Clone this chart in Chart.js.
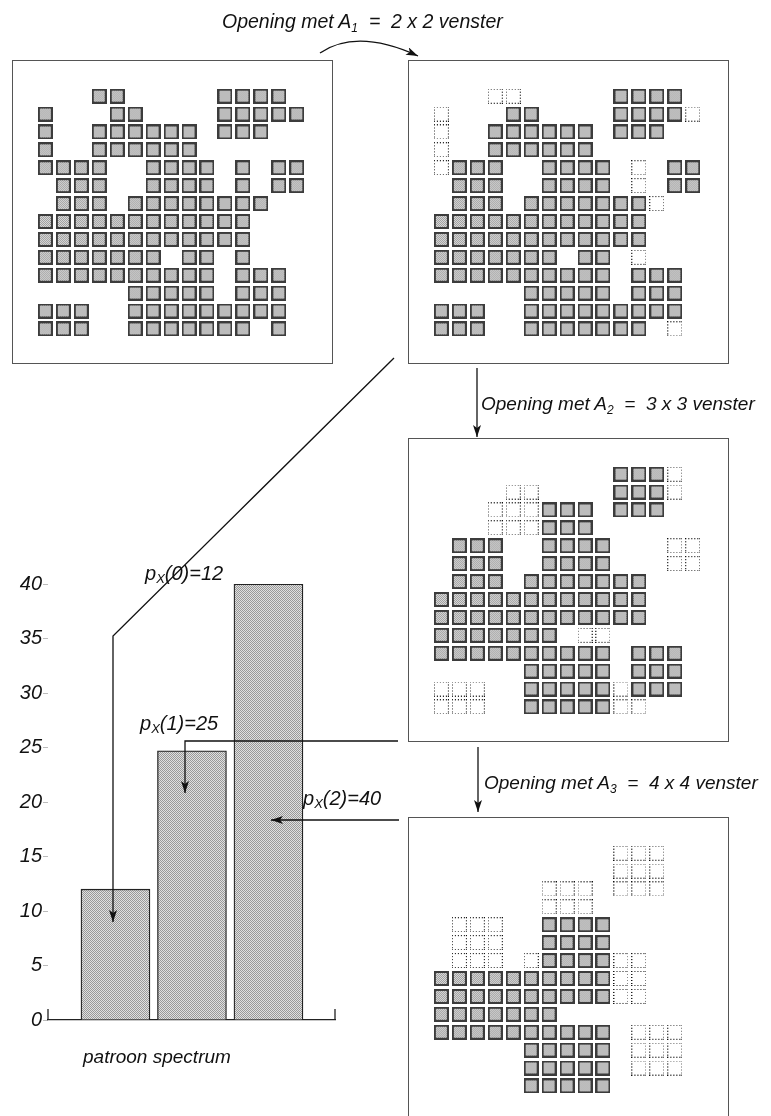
<!DOCTYPE html>
<html>
<head>
<meta charset="utf-8">
<script src="https://cdn.jsdelivr.net/npm/chart.js@4.4.0/dist/chart.umd.min.js"></script>
<style>
  body { margin: 0; background: #fff; width: 771px; height: 1116px; overflow: hidden; position: relative; }
  canvas { position: absolute; }
  .panel { outline: 1px solid #555; outline-offset: -1px; }
  svg { position: absolute; left: 0; top: 0; pointer-events: none; }
  svg text { font-family: "Liberation Sans", Arial, sans-serif; font-style: italic; fill: #111; }
</style>
</head>
<body>
<canvas id="p1" class="panel" width="321" height="304" style="left:12px;top:60px"></canvas>
<canvas id="p2" class="panel" width="321" height="304" style="left:408px;top:60px"></canvas>
<canvas id="p3" class="panel" width="321" height="304" style="left:408px;top:438px"></canvas>
<canvas id="p4" class="panel" width="321" height="304" style="left:408px;top:817px"></canvas>
<canvas id="spectrum" width="345" height="480" style="left:0;top:560px"></canvas>

<svg width="771" height="1116">
  <defs>
    <marker id="head" viewBox="0 0 12 8" refX="12" refY="4" markerWidth="12" markerHeight="8" markerUnits="userSpaceOnUse" orient="auto">
      <path d="M0,0 L12,4 L0,8 L3,4 z" fill="#111"/>
    </marker>
  </defs>
  <g fill="none" stroke="#111" stroke-width="1.3">
    <path d="M320,53 Q357,28 418,56" marker-end="url(#head)"/>
    <polyline points="394,358 113,636 113,922" marker-end="url(#head)"/>
    <line x1="477" y1="368" x2="477" y2="437" marker-end="url(#head)"/>
    <line x1="478" y1="747" x2="478" y2="812" marker-end="url(#head)"/>
    <polyline points="398,741 185,741 185,793" marker-end="url(#head)"/>
    <line x1="399" y1="820" x2="271" y2="820" marker-end="url(#head)"/>
  </g>
  <text x="222" y="28" font-size="19.5">Opening met A<tspan font-size="12" dy="4">1</tspan><tspan dy="-4" xml:space="preserve">  =  2 x 2 venster</tspan></text>
  <text x="481" y="410" font-size="19">Opening met A<tspan font-size="12" dy="4">2</tspan><tspan dy="-4" xml:space="preserve">  =  3 x 3 venster</tspan></text>
  <text x="484" y="789" font-size="19">Opening met A<tspan font-size="12" dy="4">3</tspan><tspan dy="-4" xml:space="preserve">  =  4 x 4 venster</tspan></text>
  <text x="145" y="580" font-size="20">p<tspan font-size="13" dy="3">X</tspan><tspan dy="-3">(0)=12</tspan></text>
  <text x="140" y="730" font-size="20">p<tspan font-size="13" dy="3">X</tspan><tspan dy="-3">(1)=25</tspan></text>
  <text x="303" y="805" font-size="20">p<tspan font-size="13" dy="3">X</tspan><tspan dy="-3">(2)=40</tspan></text>
  <text x="83" y="1063" font-size="19">patroon spectrum</text>
</svg>

<script>
// '#' = cell kept, 'o' = cell removed by the opening (dotted), '.' = empty
const rowsX = [
  '...##.....####.',
  '#...##....#####',
  '#..######.###..',
  '#..######......',
  '####..####.#.##',
  '.###..####.#.##',
  '.###.########..',
  '############...',
  '############...',
  '#######.##.#...',
  '##########.###.',
  '.....#####.###.',
  '###..#########.',
  '###..#######.#.'
];
const rowsA1 = [
  '...oo.....####.',
  'o...##....####o',
  'o..######.###..',
  'o..######......',
  'o###..####.o.##',
  '.###..####.o.##',
  '.###.#######o..',
  '############...',
  '############...',
  '#######.##.o...',
  '##########.###.',
  '.....#####.###.',
  '###..#########.',
  '###..#######.o.'
];
const rowsA2 = [
  '..........###o.',
  '....oo....###o.',
  '...ooo###.###..',
  '...ooo###......',
  '.###..####...oo',
  '.###..####...oo',
  '.###.#######...',
  '############...',
  '############...',
  '#######.oo.....',
  '##########.###.',
  '.....#####.###.',
  'ooo..#####o###.',
  'ooo..#####oo...'
];
const rowsA3 = [
  '..........ooo..',
  '..........ooo..',
  '......ooo.ooo..',
  '......ooo......',
  '.ooo..####.....',
  '.ooo..####.....',
  '.ooo.o####oo...',
  '##########oo...',
  '##########oo...',
  '#######........',
  '##########.ooo.',
  '.....#####.ooo.',
  '.....#####.ooo.',
  '.....#####.....'
];

const spectrumN = [0, 1, 2];
const spectrumValues = [12, 24.7, 40];
const yTickValues = [0, 5, 10, 15, 20, 25, 30, 35, 40];

Chart.defaults.animation = false;
Chart.defaults.font.family = '"Liberation Sans", Arial, sans-serif';

// little halftone look, like the printed original
function halftone() {
  const c = document.createElement('canvas');
  c.width = 2; c.height = 2;
  const g = c.getContext('2d');
  g.fillStyle = '#e0e0e0'; g.fillRect(0, 0, 2, 2);
  g.fillStyle = '#999'; g.fillRect(0, 0, 1, 1); g.fillRect(1, 1, 1, 1);
  return c;
}

function makeCell(dotted) {
  const c = document.createElement('canvas');
  c.width = 15; c.height = 15;
  const g = c.getContext('2d');
  if (dotted) {
    g.fillStyle = '#111';
    for (let i = 0; i < 15; i += 3) {
      g.fillRect(i, 0, 1, 1); g.fillRect(i, 14, 1, 1);
      g.fillRect(0, i, 1, 1); g.fillRect(14, i, 1, 1);
    }
    g.fillRect(14, 14, 1, 1);
  } else {
    g.fillStyle = '#3c3c3c'; g.fillRect(0, 0, 15, 15);
    g.fillStyle = g.createPattern(halftone(), 'repeat');
    g.fillRect(2, 2, 11, 11);
  }
  return c;
}
const cellImg = makeCell(false);
const dotImg = makeCell(true);

function cellsFrom(rows, ch) {
  const pts = [];
  rows.forEach((row, r) => {
    [...row].forEach((c, col) => { if (c === ch) pts.push({x: col, y: r}); });
  });
  return pts;
}

// cell pitch 18.9px, first cell centre ~26.7px / 29.7px inside the frame
const PITCH = 18.9;
function panelChart(id, rows) {
  new Chart(document.getElementById(id), {
    type: 'scatter',
    data: {
      datasets: [
        {data: cellsFrom(rows, '#'), pointStyle: cellImg, pointRadius: 7},
        {data: cellsFrom(rows, 'o'), pointStyle: dotImg, pointRadius: 7}
      ]
    },
    options: {
      responsive: false,
      events: [],
      layout: {padding: 0},
      plugins: {legend: {display: false}, tooltip: {enabled: false}},
      scales: {
        x: {type: 'linear', display: false, min: -26.7 / PITCH, max: (321 - 26.7) / PITCH},
        y: {type: 'linear', display: false, reverse: true, min: -29.7 / PITCH, max: (304 - 29.7) / PITCH}
      }
    }
  });
}
panelChart('p1', rowsX);
panelChart('p2', rowsA1);
panelChart('p3', rowsA2);
panelChart('p4', rowsA3);

// small upturned ends of the x axis
const axisEnds = {
  id: 'axisEnds',
  afterDraw(chart) {
    const {ctx, chartArea: a} = chart;
    ctx.save();
    ctx.strokeStyle = '#222';
    ctx.lineWidth = 1.3;
    ctx.beginPath();
    ctx.moveTo(a.left, a.bottom); ctx.lineTo(a.left, a.bottom - 11);
    ctx.moveTo(a.right, a.bottom); ctx.lineTo(a.right, a.bottom - 11);
    ctx.stroke();
    ctx.restore();
  }
};

const specCtx = document.getElementById('spectrum').getContext('2d');
new Chart(specCtx, {
  type: 'bar',
  data: {
    datasets: [{
      data: spectrumN.map((n, i) => ({x: n, y: spectrumValues[i]})),
      backgroundColor: specCtx.createPattern(halftone(), 'repeat'),
      borderColor: '#222',
      borderWidth: 1.3,
      barThickness: 69
    }]
  },
  options: {
    responsive: false,
    events: [],
    layout: {padding: {top: 24, right: 10, left: 0, bottom: 0}},
    plugins: {legend: {display: false}, tooltip: {enabled: false}},
    scales: {
      x: {
        type: 'linear', min: -0.882, max: 2.87, offset: false,
        ticks: {display: false},
        grid: {display: false, offset: false},
        border: {display: true, color: '#222', width: 1.3},
        afterFit(s) { s.height = 20; }
      },
      y: {
        min: 0, max: 40,
        afterBuildTicks(s) { s.ticks = yTickValues.map(v => ({value: v})); },
        ticks: {color: '#111', padding: 1, font: {size: 20, style: 'italic'}},
        grid: {drawOnChartArea: false, tickLength: 5, color: '#bbb'},
        border: {display: false},
        afterFit(s) { s.width = 48; }
      }
    }
  },
  plugins: [axisEnds]
});
</script>
</body>
</html>
